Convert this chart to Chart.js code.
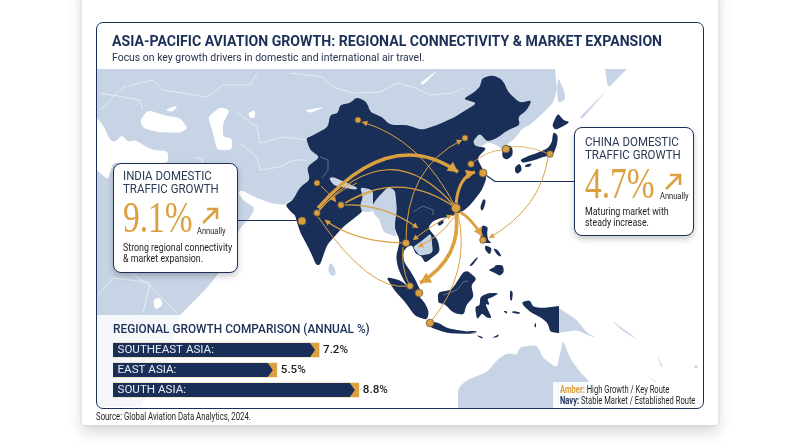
<!DOCTYPE html>
<html>
<head>
<meta charset="utf-8">
<title>Asia-Pacific Aviation Growth</title>
<script src="https://cdn.jsdelivr.net/npm/chart.js@4"></script>
<style>
    html, body { margin: 0; padding: 0; background: #fff; }
    body { width: 800px; height: 447px; overflow: hidden; position: relative; font-family: Roboto, sans-serif; color: #1b2f57; }
    .card { position: absolute; left: 82px; top: -20px; width: 636px; height: 445px; background: #fff; box-shadow: 0 7px 14px rgba(0,0,0,.16), 0 0 3px rgba(0,0,0,.1); }
    canvas { position: absolute; }
    #mapChart { left: 0; top: 0; }
    #barChart { left: 113px; top: 339.5px; }
    .frame { position: absolute; left: 96px; top: 22px; width: 606px; height: 385px; border: 1.4px solid #1b2f57; border-radius: 7px; }
    .t { position: absolute; white-space: nowrap; line-height: 1; transform-origin: left top; }
    .head { font-size: 12.5px; color: #2b3a55; transform: scaleX(.92); }
    .note { font-size: 10.4px; color: #1d1d1d; transform: scaleX(.85); }
    .ann { font-size: 9.4px; color: #1d1d1d; transform: scaleX(.8); }
    .small { font-size: 10.4px; color: #1d1d1d; transform: scaleX(.73); }
    .box { position: absolute; background: #fff; border: 1.5px solid #1b2f57; border-radius: 8px; box-shadow: 0 3px 6px rgba(0,0,0,.22); box-sizing: border-box; }
    .num { font-family: "Liberation Serif", serif; color: #dba03f; font-size: 44px; transform: scaleX(.76); }
    .legend { position: absolute; left: 553px; top: 382px; width: 149px; height: 26px; background: rgba(255,255,255,.85); }
    svg { position: absolute; }
</style>
</head>
<body>
<div class="card"></div>
<canvas id="mapChart" width="800" height="447"></canvas>
<div class="legend"></div>
<div class="frame"></div>
<canvas id="barChart" width="300" height="60"></canvas>

<div class="t" style="left:112px;top:34px;font-size:15px;font-weight:700;transform:scaleX(.94);">ASIA-PACIFIC AVIATION GROWTH: REGIONAL CONNECTIVITY &amp; MARKET EXPANSION</div>
<div class="t" style="left:112px;top:51.5px;font-size:11px;color:#26334d;transform:scaleX(.95);">Focus on key growth drivers in domestic and international air travel.</div>

<div class="box" style="left:113px;top:163px;width:125px;height:110px;"></div>
<div class="t head" style="left:123px;top:170px;">INDIA DOMESTIC</div>
<div class="t head" style="left:123px;top:182.5px;">TRAFFIC GROWTH</div>
<div class="t num" style="left:123px;top:196px;">9.1%</div>
<svg style="left:200px;top:205px;" width="20" height="20" viewBox="0 0 20 20"><path d="M3 18 L16 5 M7 4 H17 V14" fill="none" stroke="#dba03f" stroke-width="2.6"/></svg>
<div class="t ann" style="left:197px;top:225.5px;">Annually</div>
<div class="t note" style="left:123px;top:242.5px;">Strong regional connectivity</div>
<div class="t note" style="left:123px;top:253.5px;">&amp; market expansion.</div>

<div class="box" style="left:574px;top:127px;width:120px;height:109px;"></div>
<div class="t head" style="left:584.5px;top:136px;">CHINA DOMESTIC</div>
<div class="t head" style="left:584.5px;top:148.5px;">TRAFFIC GROWTH</div>
<div class="t num" style="left:585px;top:162px;">4.7%</div>
<svg style="left:663px;top:171px;" width="20" height="20" viewBox="0 0 20 20"><path d="M3 18 L16 5 M7 4 H17 V14" fill="none" stroke="#dba03f" stroke-width="2.6"/></svg>
<div class="t ann" style="left:660px;top:190.5px;">Annually</div>
<div class="t note" style="left:584.5px;top:207px;">Maturing market with</div>
<div class="t note" style="left:584.5px;top:218px;">steady increase.</div>

<div class="t" style="left:113px;top:322.5px;font-size:12.6px;font-weight:500;transform:scaleX(.94);">REGIONAL GROWTH COMPARISON (ANNUAL %)</div>

<div class="t small" style="left:560px;top:384.5px;"><b style="color:#dba03f">Amber:</b> High Growth / Key Route</div>
<div class="t small" style="left:560px;top:395.5px;"><b style="color:#1b2f57">Navy:</b> Stable Market / Established Route</div>
<div class="t small" style="left:96px;top:412px;transform:scaleX(.75);">Source: Global Aviation Data Analytics, 2024.</div>

<script>
// bar data
const regions = ["SOUTHEAST ASIA:", "EAST ASIA:", "SOUTH ASIA:"];
const growth = [7.2, 5.5, 8.8];

// airports, in map units
const cityX = [358, 317, 302, 317, 341, 465, 471, 483, 456, 506, 550, 483, 406, 410, 419, 430];
const cityY = [120, 183, 221, 213, 205, 138, 164, 173, 208, 149, 154, 240, 243, 286, 293, 323];
const citySize = [3, 3, 4, 3.2, 3.2, 3, 3.2, 4, 4.5, 3.8, 3.3, 3.3, 3.6, 3.3, 3.8, 3.8];

const navy = "#1a2f58";
const light = "#c6d4e5";
const amber = "#dba03f";

// land outlines, in map units (a repeated point keeps its corner sharp)
const eurasia = [[97,69],[97,69],[555,69],[555,69],[557,90],[553,103],[543,113],[530,125],[523,128],[515,138],[507,145],[502,150],[497,145],[487,142],[440,180],[370,190],[290,200],[285,205],[270,203],[255,197],[241,190],[238,193],[243,200],[255,208],[250,218],[240,228],[235,240],[225,265],[217,275],[207,288],[195,300],[180,315],[180,315],[97,315],[97,315]];
const africaGhost = [[97,315],[97,315],[180,315],[180,315],[172,345],[165,370],[140,407],[140,407],[97,407],[97,407]];
const sakhalin = [[558,77],[565,93],[565,100],[558,103],[557,90]];
const kamchatka = [[605,69],[605,69],[627,69],[627,69],[608,88]];
const australia = [[458,408],[458,408],[458,388],[467,380],[487,372],[497,360],[507,353],[517,355],[520,347],[537,345],[543,358],[557,368],[563,340],[570,358],[580,372],[590,382],[596,408],[596,408]];
const papua = [[559,308],[559,308],[577,320],[587,333],[597,338],[587,335],[577,330],[559,333],[559,333]];
const sriLanka = [[330,262],[335,268],[336,275],[331,276],[328,270]];
const myanmar = [[372,205],[380,195],[388,187],[395,190],[397,210],[395,222],[395,232],[397,237],[392,235],[383,232],[380,220],[373,213]];
const bangladesh = [[360,187],[373,190],[373,212],[362,212],[360,205],[363,197]];
const nepal = [[329,178],[333,185],[355,190],[358,188],[345,182],[333,177]];
const cambodia = [[413,247],[423,240],[431,233],[433,253],[420,256],[415,250]];
const lightIslands = [[[648,377],[657,382],[655,382]], [[657,355],[663,367],[661,367]], [[611,320],[625,330],[638,340],[624,332]], [[693,366],[698,365],[697,369]], [[580,117],[607,90],[582,119]]];
const lightLand = [eurasia, sakhalin, kamchatka, australia, papua, sriLanka, ...lightIslands];

const blackSea = [[140,120],[148,110],[163,115],[180,118],[188,128],[180,133],[157,132],[143,128]];
const azov = [[165,110],[178,105],[173,112]];
const caspian = [[208,117],[220,107],[230,110],[223,123],[223,137],[232,138],[232,150],[217,150],[213,133]];
const aral = [[248,113],[255,110],[255,118],[250,118]];
const balkhash = [[305,110],[325,107],[310,113]];
const baikal = [[420,83],[438,70],[423,85]];
const mediterranean = [[97,118],[97,118],[103,125],[110,140],[115,142],[122,135],[128,142],[135,140],[152,150],[168,151],[168,163],[113,163],[108,180],[97,170],[97,170]];
const victoria = [[153,300],[160,297],[163,305],[155,310]];
const water = [blackSea, azov, caspian, aral, balkhash, baikal, mediterranean, victoria];

const mainland = [[306,138],[310,137],[328,127],[330,115],[338,113],[340,105],[350,103],[357,97],[367,102],[370,112],[382,117],[390,125],[407,125],[422,130],[437,125],[453,118],[463,112],[477,103],[463,99],[473,93],[480,87],[482,78],[493,75],[503,80],[508,92],[520,103],[532,100],[527,110],[518,117],[520,125],[508,130],[497,138],[487,142],[480,133],[473,141],[475,146],[487,148],[477,158],[482,168],[487,177],[482,190],[472,203],[465,210],[450,217],[440,218],[432,222],[428,228],[438,240],[440,252],[425,263],[422,257],[415,253],[412,245],[407,247],[403,252],[404,262],[411,272],[416,281],[421,292],[412,292],[404,281],[398,268],[396,257],[400,240],[395,230],[395,222],[390,212],[385,200],[373,205],[363,207],[362,212],[343,227],[327,245],[320,265],[316,265],[312,255],[307,245],[300,232],[297,222],[295,215],[292,213],[285,205],[293,200],[300,187],[310,180],[307,167],[320,157],[310,150]];
const korea = [[503,145],[512,146],[513,155],[507,160],[502,157]];
const honshu = [[553,132],[558,135],[557,145],[553,155],[543,157],[535,160],[523,163],[520,160],[528,156],[540,152],[548,148],[552,142]];
const hokkaido = [[552,125],[558,113],[563,120],[570,122],[562,127],[555,130]];
const kyushu = [[515,167],[520,163],[522,170],[518,174],[515,172]];
const shikoku = [[525,165],[532,163],[530,167],[525,167]];
const hainan = [[437,223],[443,219],[444,223],[439,226]];
const taiwan = [[480,208],[483,199],[486,200],[484,208],[482,211]];
const luzon = [[482,225],[488,227],[487,233],[488,240],[492,243],[483,243],[480,235]];
const visayas = [[[493,248],[498,250],[502,257],[497,255]], [[485,245],[492,248],[490,255],[485,250]]];
const mindanao = [[495,265],[503,265],[504,272],[500,276],[495,273],[488,270],[495,267]];
const palawan = [[469,266],[477,257],[478,258],[472,266]];
const borneo = [[438,292],[447,291],[452,289],[457,282],[463,272],[468,271],[477,279],[471,285],[474,297],[466,305],[464,315],[453,313],[445,304],[438,303]];
const sumatra = [[386,277],[400,280],[415,292],[425,303],[429,312],[427,320],[415,316],[405,302],[395,291]];
const java = [[425,322],[437,322],[447,328],[457,330],[477,333],[467,334],[447,333],[432,328]];
const sulawesi = [[480,297],[488,293],[499,293],[493,297],[487,299],[490,305],[485,304],[492,318],[487,318],[482,313],[477,320],[475,307],[480,305]];
const newGuinea = [[522,302],[530,300],[533,307],[543,308],[559,306],[559,306],[559,333],[559,333],[550,332],[548,323],[540,317],[530,312],[523,305]];
const smallIslands = [[[476,335],[483,337],[482,339]], [[492,338],[499,334],[498,337]], [[465,331],[477,331],[476,333]], [[510,290],[513,292],[512,301],[510,300]], [[503,311],[507,311],[507,314]], [[512,311],[520,312],[520,314],[512,313]], [[534,326],[536,322],[536,328]]];
const navyLand = [mainland, korea, honshu, hokkaido, kyushu, shikoku, hainan, taiwan, luzon, ...visayas, mindanao, palawan, borneo, sumatra, java, sulawesi, newGuinea, ...smallIslands];
const lightOverNavy = [myanmar, bangladesh, nepal, cambodia];

// borders
const borders = [
    [[290,73],[323,77],[333,87],[353,93],[380,92],[397,83],[413,87],[430,95],[453,93],[463,88]],
    [[207,97],[223,85],[250,85],[257,73]],
    [[237,113],[257,127],[260,143],[283,137],[307,140]],
    [[257,157],[260,170],[280,167],[293,160],[307,160]],
    [[240,143],[257,157]],
    [[100,110],[123,87],[153,80],[163,90],[207,97]],
    [[100,93],[140,100],[143,110]],
    [[196,157],[203,160],[197,177],[187,167]],
    [[113,278],[147,282],[177,313]],
    [[133,275],[150,285],[143,313]],
    [[98,295],[113,278]],
    [[413,212],[423,206],[433,210],[433,215]],
    [[443,295],[457,290],[463,282],[468,281]],
    [[320,157],[328,160],[328,170],[322,178]]
];

// routes: start, control, end, width, arrow at end, arrow at start
const routes = [
    [318,208, 391,125, 458,172, 3.4, true, false],
    [317,213, 389,129, 456,208, 1.2, false, false],
    [345,203, 400,169, 456,208, 1.2, false, false],
    [456,208, 421,139, 362,122, 1, true, false],
    [406,243, 405,168, 462,140, 1, true, false],
    [345,205, 384,204, 418,228, 1.2, true, false],
    [456,205, 458,177, 475,172, 3, true, false],
    [472,163, 488,150, 503,150, 0.8, false, false],
    [506,149, 518,142, 550,154, 0.8, false, false],
    [548,157, 541,208, 489,238, 1, true, false],
    [460,212, 471,218, 482,236, 2.8, true, false],
    [456,212, 462,258, 420,283, 3.6, true, false],
    [458,213, 471,272, 432,320, 1, false, false],
    [452,215, 433,224, 413,240, 1, true, true],
    [454,217, 441,236, 418,247, 1, true, false],
    [404,243, 354,242, 325,220, 1.2, true, false],
    [318,217, 370,292, 408,286, 1, false, false],
    [403,247, 401,268, 409,284, 1, false, false],
    [321,186, 329,193, 336,202, 0.9, true, false],
    [345,203, 358,196, 372,192, 0.9, false, false],
    [318,211, 335,192, 357,183, 0.9, false, false]
];

// callout leaders
const leaders = [
    [[238,220.5],[302,220.5]],
    [[483,173],[495,181.5],[575,181.5]]
];

const mapLayer = {
    id: "mapLayer",
    beforeDatasetsDraw(chart) {
        const { ctx, scales: { x, y } } = chart;
        const px = p => [x.getPixelForValue(p[0]), y.getPixelForValue(p[1])];

        function trace(points) {
            ctx.beginPath();
            points.forEach((p, i) => {
                const [a, b] = px(p);
                if (i === 0) ctx.moveTo(a, b); else ctx.lineTo(a, b);
            });
        }
        // closed outline with the corners softened, coasts look less cut out
        function soften(points) {
            const n = points.length;
            const along = (p, q) => {
                const d = Math.hypot(q[0] - p[0], q[1] - p[1]);
                const k = d ? Math.min(0.35, 4 / d) : 0;
                return [p[0] + (q[0] - p[0]) * k, p[1] + (q[1] - p[1]) * k];
            };
            ctx.beginPath();
            points.forEach((p, i) => {
                const prev = points[(i + n - 1) % n];
                const next = points[(i + 1) % n];
                const [a0, b0] = px(along(p, prev));
                const [a1, b1] = px(p);
                const [a2, b2] = px(along(p, next));
                if (i === 0) ctx.moveTo(a0, b0); else ctx.lineTo(a0, b0);
                ctx.quadraticCurveTo(a1, b1, a2, b2);
            });
            ctx.closePath();
        }
        function fillAll(list, color) {
            ctx.fillStyle = color;
            list.forEach(s => { soften(s); ctx.fill(); });
        }
        function head(tipX, tipY, angle, size) {
            const [a, b] = px([tipX, tipY]);
            ctx.beginPath();
            ctx.moveTo(a, b);
            ctx.lineTo(a - size * Math.cos(angle - 0.5), b - size * Math.sin(angle - 0.5));
            ctx.lineTo(a - size * Math.cos(angle + 0.5), b - size * Math.sin(angle + 0.5));
            ctx.closePath();
            ctx.fill();
        }

        ctx.save();
        ctx.lineJoin = "round";
        fillAll([africaGhost], "#f5f7fb");
        fillAll(lightLand, light);
        fillAll(water, "#fff");
        ctx.strokeStyle = "rgba(255,255,255,.75)";
        ctx.lineWidth = 0.7;
        borders.slice(0, 11).forEach(b => { trace(b); ctx.stroke(); });

        fillAll(navyLand, navy);
        fillAll(lightOverNavy, light);
        ctx.strokeStyle = "rgba(198,212,229,.55)";
        borders.slice(11).forEach(b => { trace(b); ctx.stroke(); });

        ctx.strokeStyle = navy;
        ctx.lineWidth = 1.2;
        leaders.forEach(l => { trace(l); ctx.stroke(); });

        ctx.strokeStyle = amber;
        ctx.fillStyle = amber;
        routes.forEach(([x0, y0, cx, cy, x1, y1, w, endArrow, startArrow]) => {
            const [a0, b0] = px([x0, y0]);
            const [ac, bc] = px([cx, cy]);
            const [a1, b1] = px([x1, y1]);
            ctx.lineWidth = w;
            ctx.beginPath();
            ctx.moveTo(a0, b0);
            ctx.quadraticCurveTo(ac, bc, a1, b1);
            ctx.stroke();
            const size = w > 2 ? w * 3.4 : 6;
            if (endArrow) head(x1, y1, Math.atan2(b1 - bc, a1 - ac), size);
            if (startArrow) head(x0, y0, Math.atan2(b0 - bc, a0 - ac), size);
        });
        ctx.restore();
    }
};

new Chart(document.getElementById("mapChart"), {
    type: "scatter",
    data: {
        datasets: [{
            label: "Airports",
            data: cityX.map((v, i) => ({ x: v, y: cityY[i] })),
            pointRadius: citySize,
            pointHoverRadius: citySize,
            backgroundColor: amber,
            borderColor: "#6b5a3a",
            borderWidth: 0.8,
            clip: false
        }]
    },
    options: {
        responsive: false,
        animation: false,
        events: [],
        layout: { padding: 0, autoPadding: false },
        plugins: { legend: { display: false }, tooltip: { enabled: false } },
        scales: {
            x: { type: "linear", min: 0, max: 800, display: false },
            y: { type: "linear", min: 0, max: 447, reverse: true, display: false }
        }
    },
    plugins: [mapLayer]
});

// axis starts a little below zero, same as the picture
const barBase = -1.09;

const barLabels = {
    id: "barLabels",
    afterDatasetsDraw(chart) {
        const { ctx } = chart;
        ctx.save();
        chart.getDatasetMeta(0).data.forEach((bar, i) => {
            const top = bar.y - bar.height / 2;
            const bottom = bar.y + bar.height / 2;
            ctx.fillStyle = navy;
            ctx.beginPath();
            ctx.moveTo(bar.base, top);
            ctx.lineTo(bar.x - 9, top);
            ctx.lineTo(bar.x - 4, bar.y);
            ctx.lineTo(bar.x - 9, bottom);
            ctx.lineTo(bar.base, bottom);
            ctx.closePath();
            ctx.fill();

            ctx.textBaseline = "middle";
            ctx.font = "11.6px Roboto";
            ctx.fillStyle = "#e8edf4";
            ctx.fillText(regions[i], bar.base + 4.5, bar.y + 0.5);
            ctx.font = "500 11.6px Roboto";
            ctx.fillStyle = "#1c1c1c";
            ctx.fillText(growth[i].toFixed(1) + "%", bar.x + 4, bar.y + 0.5);
        });
        ctx.restore();
    }
};

new Chart(document.getElementById("barChart"), {
    type: "bar",
    data: {
        labels: regions,
        datasets: [{
            label: "Annual growth %",
            data: growth,
            base: barBase,
            backgroundColor: amber,
            barThickness: 14
        }]
    },
    options: {
        indexAxis: "y",
        responsive: false,
        animation: false,
        events: [],
        layout: { padding: 0, autoPadding: false },
        plugins: { legend: { display: false }, tooltip: { enabled: false } },
        scales: {
            x: { min: barBase, max: 10.98, display: false },
            y: { display: false }
        }
    },
    plugins: [barLabels]
});
</script>
</body>
</html>
